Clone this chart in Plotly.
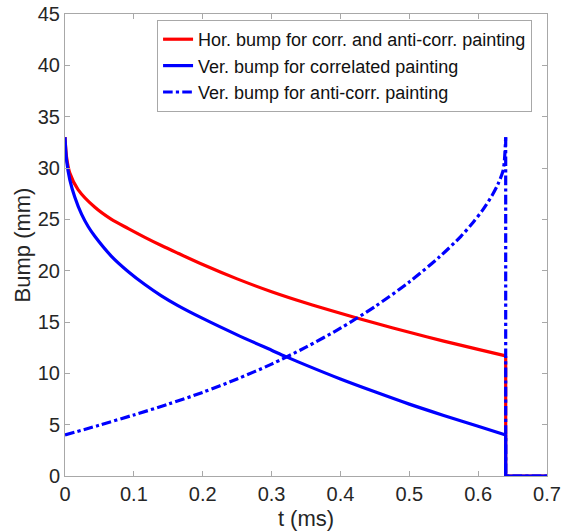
import plotly.graph_objects as go

# Time samples (ms) and bump amplitudes (mm) for each painting scheme
t_hor = [0, 0.0022, 0.007, 0.019, 0.043, 0.0675, 0.092, 0.116, 0.14, 0.164,
         0.2, 0.25, 0.3, 0.35, 0.4, 0.45, 0.5, 0.55, 0.6, 0.64]
bump_hor = [33.0, 31.1, 29.5, 27.9, 26.2, 25.0, 24.1, 23.25, 22.45, 21.7,
            20.6, 19.2, 17.95, 16.85, 15.85, 14.9, 14.0, 13.14, 12.33, 11.7]

t_ver_corr = [0, 0.0022, 0.007, 0.0143, 0.024, 0.0336, 0.0433, 0.0675, 0.092,
              0.116, 0.14, 0.164, 0.2, 0.25, 0.3, 0.32, 0.35, 0.4, 0.45,
              0.5, 0.55, 0.6, 0.64]
bump_ver_corr = [33.0, 30.8, 28.85, 27.15, 25.5, 24.3, 23.35, 21.4, 19.9,
                 18.65, 17.55, 16.6, 15.35, 13.75, 12.25, 11.65, 10.8, 9.45,
                 8.2, 7.0, 5.9, 4.85, 4.0]

t_ver_anti = [0, 0.05, 0.1, 0.15, 0.2, 0.25, 0.3, 0.35, 0.4, 0.45, 0.5,
              0.544, 0.575, 0.592, 0.607, 0.62, 0.629, 0.636, 0.638, 0.64]
bump_ver_anti = [4.0, 4.95, 5.95, 7.0, 8.15, 9.45, 10.9, 12.55, 14.4, 16.5,
                 18.9, 21.35, 23.35, 24.65, 25.95, 27.3, 28.45, 29.7, 30.6, 33.0]

# After painting ends the bump is switched off until the end of the window
t_off = [0.64, 0.7]
bump_off = [0.0, 0.0]

names = ["Hor. bump for corr. and anti-corr. painting",
         "Ver. bump for correlated painting",
         "Ver. bump for anti-corr. painting"]

FONT = "Liberation Sans, Arial, Helvetica, sans-serif"
AXIS_GRAY = "#a8a8a8"
TEXT = "#262626"
LW = 3.2

fig = go.Figure()
series = [
    (t_hor, bump_hor, "#ff0000", "solid"),
    (t_ver_corr, bump_ver_corr, "#0000ff", "solid"),
    (t_ver_anti, bump_ver_anti, "#0000ff", "dashdot"),
]
for i, ((t, b, color, dash), name) in enumerate(zip(series, names)):
    line = dict(color=color, width=LW, dash=dash)
    # smooth ramp while painting
    fig.add_trace(go.Scatter(
        x=t, y=b, mode="lines", name=name, legendgroup=f"g{i}",
        line=dict(shape="spline", smoothing=0.8, **line),
    ))
    # switch-off step and flat zero afterwards
    fig.add_trace(go.Scatter(
        x=[t[-1]] + t_off, y=[b[-1]] + bump_off, mode="lines", name=name,
        legendgroup=f"g{i}", showlegend=False, line=line,
    ))

axis_common = dict(
    showgrid=False, zeroline=False, showline=True, linecolor=AXIS_GRAY,
    linewidth=1, mirror="ticks", ticks="inside", ticklen=5,
    tickcolor=AXIS_GRAY, tickwidth=1, automargin=False,
    tickfont=dict(family=FONT, size=20, color=TEXT),
)

fig.update_layout(
    width=564, height=531,
    margin=dict(l=65, r=17, t=14, b=55),
    paper_bgcolor="white", plot_bgcolor="white",
    font=dict(family=FONT, color=TEXT),
    xaxis=dict(range=[0, 0.7], tick0=0, dtick=0.1,
               title=dict(text="t (ms)", font=dict(family=FONT, size=22, color=TEXT),
                          standoff=18),
               **axis_common),
    yaxis=dict(range=[0, 45], tick0=0, dtick=5,
               title=dict(text="Bump (mm)", font=dict(family=FONT, size=22, color=TEXT),
                          standoff=1),
               **axis_common),
    legend=dict(x=0.969, y=0.987, xanchor="right", yanchor="top",
                bgcolor="white", bordercolor=AXIS_GRAY, borderwidth=1,
                font=dict(family=FONT, size=18, color="#111111"),
                tracegroupgap=0, itemwidth=30),
    showlegend=True,
)

fig.write_html("out.html")
